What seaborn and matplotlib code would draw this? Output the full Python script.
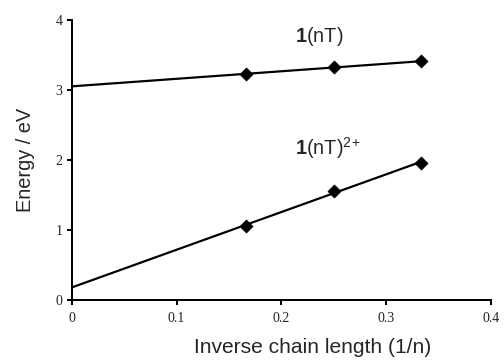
import numpy as np
import pandas as pd
import seaborn as sns
import matplotlib
matplotlib.use('Agg')
import matplotlib.pyplot as plt

# data
inv_n = [1/6, 1/4, 1/3]
e_neutral = [3.23, 3.33, 3.41]
e_dication = [1.06, 1.56, 1.96]

sns.set_style('ticks')
plt.rcParams['mathtext.fontset'] = 'custom'
plt.rcParams['mathtext.rm'] = 'Liberation Sans'
plt.rcParams['mathtext.bf'] = 'Liberation Sans:bold'

df = pd.DataFrame({'x': inv_n * 2,
                   'E': e_neutral + e_dication,
                   'series': ['neutral'] * 3 + ['dication'] * 3})

fig = plt.figure(figsize=(7, 5), dpi=72)
ax = fig.add_axes([0.142, 0.167, 0.833, 0.777])

# linear fits extrapolated to 1/n = 0
xs = np.array([0, 1/3])
for vals in (e_neutral, e_dication):
    k, b = np.polyfit(inv_n, vals, 1)
    ax.plot(xs, k * xs + b, color='black', lw=2.2)

sns.scatterplot(data=df, x='x', y='E', marker='D', color='black', s=85,
                edgecolor='black', legend=False, ax=ax, zorder=3)

ax.set_xlim(0, 0.4)
ax.set_ylim(0, 4)
ax.set_xticks([0, 0.1, 0.2, 0.3, 0.4])
ax.set_xticklabels(['0', '0.1', '0.2', '0.3', '0.4'])
ax.set_yticks([0, 1, 2, 3, 4])
for lab in ax.get_xticklabels() + ax.get_yticklabels():
    lab.set_fontfamily('Liberation Serif')
    lab.set_fontsize(14)
ax.tick_params(direction='out', length=5, width=2, color='black')
ax.tick_params(axis='x', pad=7)
ax.tick_params(axis='y', pad=4)
sns.despine(ax=ax)
for sp in ('left', 'bottom'):
    ax.spines[sp].set_linewidth(2)
    ax.spines[sp].set_color('black')

ax.set_xlabel('Inverse chain length (1/n)', family='Liberation Sans',
              fontsize=21, labelpad=13)
ax.xaxis.label.set_x(0.575)
ax.set_ylabel('Energy / eV', family='Liberation Sans', fontsize=20,
              labelpad=20)

ax.text(0.213, 3.69, r'$\mathbf{1}\mathrm{(nT)}$', fontsize=20)
ax.text(0.213, 2.07, r'$\mathbf{1}\mathrm{(nT)}^{2\!+}$', fontsize=20)

fig.savefig('out.png', dpi=72)
